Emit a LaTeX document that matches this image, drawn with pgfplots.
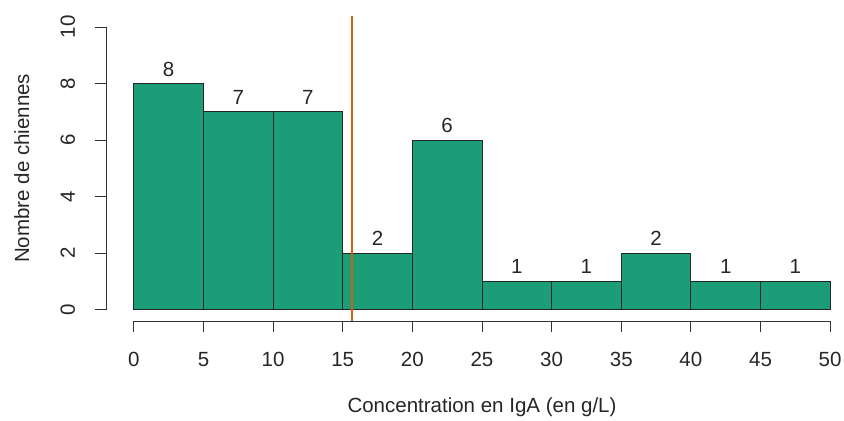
\documentclass[border=0pt]{standalone}
\usepackage{fontspec}
\setmainfont{Liberation Sans}
\usepackage{pgfplots}
\pgfplotsset{compat=1.18}
\definecolor{barfill}{HTML}{1B9E77}
\definecolor{vline}{HTML}{D95F02}
\definecolor{axgray}{HTML}{333333}
\newcommand\rfont{\fontsize{20.5bp}{24bp}\selectfont}
\begin{document}
\begin{tikzpicture}
\begin{axis}[
  scale only axis, width=752bp, height=305.3bp,
  xmin=-2, xmax=52, ymin=-0.4, ymax=10.4,
  clip=false,
  axis line style={draw=none},
  xtick={0,5,...,50}, ytick={0,2,...,10},
  xtick pos=bottom, ytick pos=left, tick align=outside,
  major tick length=11bp,
  tick style={draw=axgray, line width=0.9bp},
  /pgf/number format/assume math mode=true,
  tick label style={font=\rfont, text=black!85},
  xticklabel style={anchor=base, yshift=-35bp},
  yticklabel style={xshift=-20bp, rotate=90, anchor=base},
  xlabel={Concentration en IgA (en g/L)},
  ylabel={Nombre de chiennes},
  every axis x label/.style={at={(axis description cs:0.5,0)}, anchor=base, yshift=-92bp, font=\rfont, text=black!85},
  every axis y label/.style={at={(axis description cs:0,0.5)}, xshift=-77bp, rotate=90, anchor=base, font=\rfont, text=black!85},
]
\addplot[ybar interval, fill=barfill, draw=black!85, line width=0.8bp]
  coordinates {(0,8) (5,7) (10,7) (15,2) (20,6) (25,1) (30,1) (35,2) (40,1) (45,1) (50,1)};
\addplot[draw=none, mark=none, nodes near coords, point meta=explicit symbolic,
  every node near coord/.style={anchor=base, yshift=7.5bp, font=\rfont, text=black!85}]
  coordinates {(2.5,8)[8] (7.5,7)[7] (12.5,7)[7] (17.5,2)[2] (22.5,6)[6] (27.5,1)[1] (32.5,1)[1] (37.5,2)[2] (42.5,1)[1] (47.5,1)[1]};
\addplot[vline, line width=2.5bp] coordinates {(15.66,-0.4) (15.66,10.4)};
\draw[axgray, line width=0.9bp] (axis cs:0,-0.4) -- (axis cs:50,-0.4);
\draw[axgray, line width=0.9bp] (axis cs:-2,0) -- (axis cs:-2,10);
\coordinate (bbA) at (axis cs:-9.612,10.955);
\coordinate (bbB) at (axis cs:50.995,-3.937);
\end{axis}
\pgfresetboundingbox
\useasboundingbox (bbA) rectangle (bbB);
\end{tikzpicture}
\end{document}
